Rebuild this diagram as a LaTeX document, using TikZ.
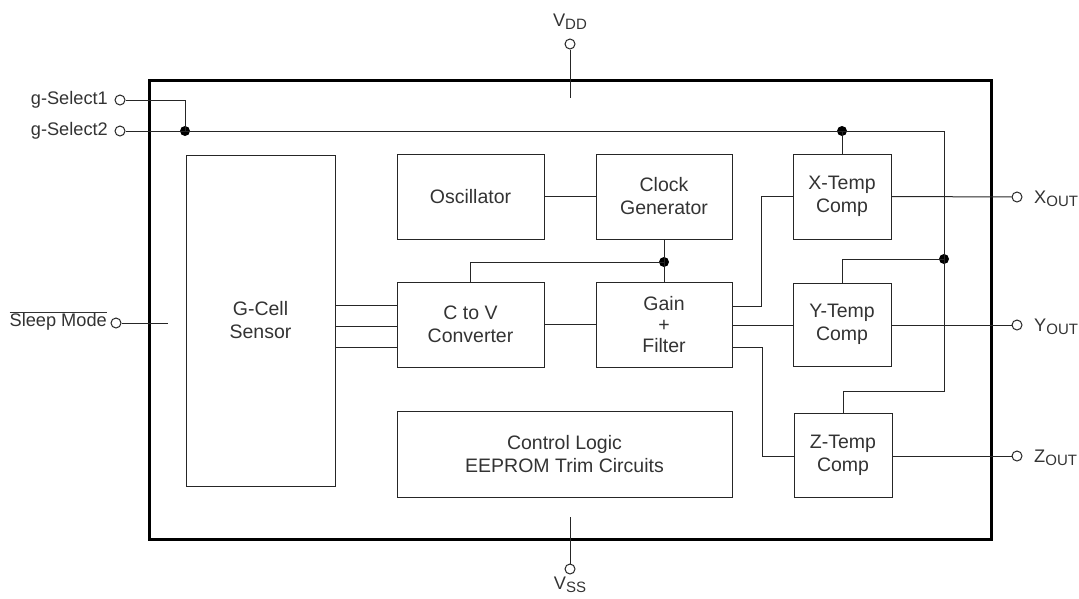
\documentclass[tikz,border=0pt]{standalone}
\usepackage{fontspec}
\setmainfont{Liberation Sans}
\usetikzlibrary{calc}
\newcommand{\subt}[1]{\raisebox{-0.35ex}{\fontsize{15}{15}\selectfont #1}}
\begin{document}
\begin{tikzpicture}[x=1pt,y=-1pt,
  wire/.style={draw=black!85, line width=1pt},
  blk/.style={draw=black!85, line width=1pt, inner sep=0pt, align=center,
    font=\fontsize{19.5}{23}\selectfont, text=black!80},
  pin/.style={circle, draw=black!85, line width=1pt, minimum size=10pt, inner sep=0pt, fill=white},
  dot/.style={circle, fill=black, draw=none, minimum size=10pt, inner sep=0pt},
  lbl/.style={font=\fontsize{18.2}{21}\selectfont, text=black!80, inner sep=0pt}]
\useasboundingbox (0,0) rectangle (1079,598);
% chip border
\draw[line width=3pt, draw=black] (149,80) rectangle (991,539);
% blocks
\node[blk, minimum width=149pt, minimum height=331pt] (gcell) at (260.5,320.5) {G-Cell\\Sensor};
\node[blk, minimum width=147pt, minimum height=85pt] (osc) at (470.5,196.5) {Oscillator};
\node[blk, minimum width=136pt, minimum height=85pt] (clk) at (664,196.5) {Clock\\Generator};
\node[blk, minimum width=147pt, minimum height=85pt] (ctov) at (470.5,324.5) {C to V\\Converter};
\node[blk, minimum width=136pt, minimum height=85pt, font=\fontsize{19.5}{21}\selectfont] (gain) at (664,324.5) {Gain\\+\\Filter};
\node[blk, minimum width=335pt, minimum height=86pt] (ctrl) at (564.5,454) {Control Logic\\EEPROM Trim Circuits};
\node[blk, minimum width=98pt, minimum height=85pt] (xt) at (842,196.5) {X-Temp\\Comp};
\node[blk, minimum width=98pt, minimum height=83pt] (yt) at (842,324.5) {Y-Temp\\Comp};
\node[blk, minimum width=98pt, minimum height=84pt] (zt) at (843,455) {Z-Temp\\Comp};
% pins
\node[pin] (vdd) at (570,44) {};
\node[pin] (vss) at (570,569) {};
\node[pin] (gs1) at (120,100) {};
\node[pin] (gs2) at (120,131) {};
\node[pin] (slp) at (116,323) {};
\node[pin] (xo) at (1017,197) {};
\node[pin] (yo) at (1017,325) {};
\node[pin] (zo) at (1017,456) {};
% labels
\node[lbl] (lvdd) at (570,22) {V\subt{DD}};
\node[lbl] (lvss) at (570,585) {V\subt{SS}};
\node[lbl, anchor=east] (lgs1) at (108,100) {g-Select1};
\node[lbl, anchor=east] (lgs2) at (108,131) {g-Select2};
\node[lbl, anchor=east] (lslp) at (107,321) {$\overline{\mbox{Sleep Mode}}$};
\node[lbl, anchor=west] (lxo) at (1034,199) {X\subt{OUT}};
\node[lbl, anchor=west] (lyo) at (1034,327) {Y\subt{OUT}};
\node[lbl, anchor=west] (lzo) at (1034,458) {Z\subt{OUT}};
% junctions and corners
\node[dot] (dA) at (185,131) {};
\node[dot] (dX) at (842,131) {};
\node[dot] (dY) at (944,259) {};
\node[dot] (dG) at (664,262) {};
\coordinate (cTR) at (944,131);
\coordinate (cBR) at (944,391);
\coordinate (vddend) at (570,98);
\coordinate (vssend) at (570,517);
\coordinate (slpend) at (168,323);
% wires
\draw[wire] (vdd) -- (vddend);
\draw[wire] (vss) -- (vssend);
\draw[wire] (slp) -- (slpend);
\draw[wire] (gs1) -| (dA.center);
\draw[wire] (gs2) -- (cTR) -- (cBR) -| (zt.north);
\draw[wire] (dX.center) -- (xt.north);
\draw[wire] (dY.center) -| (yt.north);
\draw[wire] (xt.east) -- (xo);
\draw[wire] (yt.east |- 0,325) -- (yo);
\draw[wire] (zt.east |- 0,456) -- (zo);
\draw[wire] (osc) -- (clk);
\draw[wire] (clk) -- (gain);
\draw[wire] (dG.center) -| (ctov.north);
\draw[wire] (ctov) -- (gain);
\draw[wire] (gcell.east |- 0,305) -- (ctov.west |- 0,305);
\draw[wire] (gcell.east |- 0,326) -- (ctov.west |- 0,326);
\draw[wire] (gcell.east |- 0,347) -- (ctov.west |- 0,347);
\draw[wire] (gain.east |- 0,306) -- (761,306) |- (xt.west);
\draw[wire] (gain.east |- 0,325) -- (yt.west |- 0,325);
\draw[wire] (gain.east |- 0,347) -- (762,347) |- (zt.west |- 0,456);
\end{tikzpicture}
\end{document}
